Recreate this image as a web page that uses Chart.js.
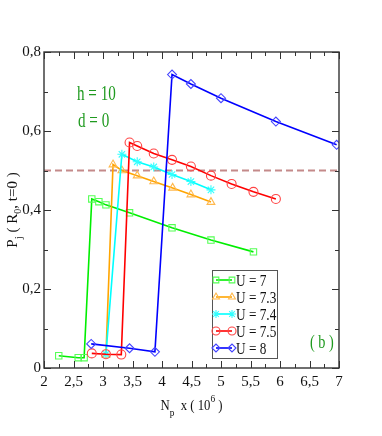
<!DOCTYPE html>
<html>
<head>
<meta charset="utf-8">
<script src="https://cdn.jsdelivr.net/npm/chart.js@4.4.1/dist/chart.umd.min.js"></script>
<style>
  html, body { margin: 0; padding: 0; background: #fff; }
  #wrap { width: 382px; height: 436px; }
</style>
</head>
<body>
<div id="wrap"><canvas id="chart" width="382" height="436"></canvas></div>
<script>
// values (x in units of 10^6)
const u7X  = [2.25, 2.58, 2.68, 2.81, 2.93, 3.05, 3.45, 4.17, 4.83, 5.55];
const u7Y  = [0.031, 0.026, 0.026, 0.428, 0.421, 0.413, 0.393, 0.355, 0.324, 0.294];
const u73X = [3.05, 3.17, 3.32, 3.58, 3.86, 4.18, 4.49, 4.83];
const u73Y = [0.033, 0.515, 0.500, 0.487, 0.472, 0.456, 0.439, 0.420];
const u74X = [3.05, 3.32, 3.58, 3.86, 4.17, 4.49, 4.83];
const u74Y = [0.035, 0.541, 0.522, 0.509, 0.490, 0.472, 0.451];
const u75X = [2.81, 3.05, 3.31, 3.45, 3.58, 3.86, 4.17, 4.49, 4.83, 5.18, 5.55, 5.93];
const u75Y = [0.037, 0.035, 0.034, 0.571, 0.562, 0.543, 0.527, 0.510, 0.487, 0.466, 0.446, 0.428];
const u8X  = [2.80, 3.45, 3.88, 4.17, 4.49, 5.00, 5.93, 6.96];
const u8Y  = [0.061, 0.050, 0.041, 0.743, 0.719, 0.683, 0.624, 0.565];
const threshold = 0.5;

const seriesLabels = ['U = 7', 'U = 7.3', 'U = 7.4', 'U = 7.5', 'U = 8'];
const xTicks = [2, 2.5, 3, 3.5, 4, 4.5, 5, 5.5, 6, 6.5, 7];
const yTicks = [0, 0.2, 0.4, 0.6, 0.8];

function pts(xs, ys) {
    return xs.map((x, i) => ({ x: x, y: ys[i] }));
}

function series(label, xs, ys, line, mark, style, order) {
    return {
        label: label,
        data: pts(xs, ys),
        showLine: true,
        borderColor: line,
        borderWidth: 1.6,
        pointStyle: style,
        pointRadius: 4.5,
        pointBorderColor: mark,
        pointBackgroundColor: 'rgba(0,0,0,0)',
        pointBorderWidth: 1.1,
        order: order
    };
}

const datasets = [
    series(seriesLabels[0], u7X, u7Y, '#00ee00', '#55ff55', 'rect', 5),
    series(seriesLabels[1], u73X, u73Y, '#ffa500', '#ffb84d', 'triangle', 4),
    series(seriesLabels[2], u74X, u74Y, '#00ffff', '#33ffff', 'star', 3),
    series(seriesLabels[3], u75X, u75Y, '#ff0000', '#ff4444', 'circle', 2),
    series(seriesLabels[4], u8X, u8Y, '#0000ff', '#4444ff', 'rectRot', 1),
    {
        label: 'ref',
        data: [{ x: 2, y: threshold }, { x: 7, y: threshold }],
        showLine: true,
        borderColor: '#c48a8a',
        borderWidth: 2,
        borderDash: [7, 4],
        pointRadius: 0,
        order: 6
    }
];

const SERIF = "'Liberation Serif', 'DejaVu Serif', serif";

// text pieces: [text, size, dy]
function drawPieces(ctx, pieces) {
    let total = 0;
    pieces.forEach(p => {
        ctx.font = p[1] + 'px ' + SERIF;
        p.w = ctx.measureText(p[0]).width;
        total += p.w;
    });
    let x = -total / 2;
    pieces.forEach(p => {
        ctx.font = p[1] + 'px ' + SERIF;
        ctx.fillText(p[0], x, p[2]);
        x += p.w;
    });
}

function squeezedText(ctx, txt, x, y, size, color, sx) {
    ctx.save();
    ctx.translate(x, y);
    ctx.scale(sx, 1);
    ctx.font = size + 'px ' + SERIF;
    ctx.fillStyle = color;
    ctx.textAlign = 'left';
    ctx.textBaseline = 'alphabetic';
    ctx.fillText(txt, 0, 0);
    ctx.restore();
}

const framePlugin = {
    id: 'frame',
    afterDraw(chart) {
        const ctx = chart.ctx;
        const a = chart.chartArea;
        const xs = chart.scales.x, ys = chart.scales.y;
        ctx.save();
        ctx.strokeStyle = '#333';
        ctx.lineWidth = 1.4;
        ctx.strokeRect(a.left, a.top, a.right - a.left, a.bottom - a.top);
        ctx.lineWidth = 1;
        ctx.beginPath();
        for (let v = 2; v <= 7.001; v += 0.25) {
            const px = Math.round(xs.getPixelForValue(v)) + 0.5;
            const len = Math.abs(v * 2 - Math.round(v * 2)) < 0.01 ? 7 : 4;
            ctx.moveTo(px, a.bottom); ctx.lineTo(px, a.bottom - len);
            ctx.moveTo(px, a.top); ctx.lineTo(px, a.top + len);
        }
        for (let v = 0; v <= 0.801; v += 0.1) {
            const py = Math.round(ys.getPixelForValue(v)) + 0.5;
            const len = Math.abs(v * 5 - Math.round(v * 5)) < 0.01 ? 7 : 4;
            ctx.moveTo(a.left, py); ctx.lineTo(a.left + len, py);
            ctx.moveTo(a.right, py); ctx.lineTo(a.right - len, py);
        }
        ctx.stroke();

        // axis titles
        ctx.fillStyle = '#111';
        ctx.textAlign = 'left';
        ctx.textBaseline = 'alphabetic';
        ctx.save();
        ctx.translate((a.left + a.right) / 2, 410);
        ctx.scale(0.85, 1);
        drawPieces(ctx, [['N', 15, 0], ['p', 11, 6], ['  x ( 10', 15, 0], ['6', 11, -8], [' )', 15, 0]]);
        ctx.restore();

        ctx.save();
        ctx.translate(17, (a.top + a.bottom) / 2);
        ctx.rotate(-Math.PI / 2);
        drawPieces(ctx, [['P', 15, 0], ['j', 11, 5], [' ( R', 15, 0], ['0', 10, 4], [', t=0 )', 15, 0]]);
        ctx.restore();

        // annotations
        squeezedText(ctx, 'h = 10', 77, 100, 21, '#1f9a1f', 0.72);
        squeezedText(ctx, 'd = 0', 78, 127, 21, '#1f9a1f', 0.72);
        squeezedText(ctx, '( b )', 310, 348, 19, '#1f9a1f', 0.75);

        // legend
        const lx = 212, ly = 270, lw = 65, lh = 88;
        ctx.fillStyle = '#fff';
        ctx.fillRect(lx, ly, lw, lh);
        ctx.strokeStyle = '#555';
        ctx.lineWidth = 1;
        ctx.strokeRect(lx + 0.5, ly + 0.5, lw, lh);
        datasets.slice(0, 5).forEach((ds, i) => {
            const cy = ly + 10 + i * 17;
            ctx.strokeStyle = ds.borderColor;
            ctx.lineWidth = 1.6;
            ctx.beginPath();
            ctx.moveTo(lx + 4, cy); ctx.lineTo(lx + 20, cy);
            ctx.stroke();
            [lx + 4, lx + 20].forEach(px => {
                ctx.strokeStyle = ds.pointBorderColor;
                ctx.fillStyle = 'rgba(0,0,0,0)';
                ctx.lineWidth = 1.1;
                Chart.helpers.drawPoint(ctx, { pointStyle: ds.pointStyle, radius: 4, borderWidth: 1.1, rotation: 0 }, px, cy);
            });
            squeezedText(ctx, ds.label, lx + 24, cy + 6, 17, '#111', 0.78);
        });
        ctx.restore();
    }
};

new Chart(document.getElementById('chart'), {
    type: 'scatter',
    data: { datasets: datasets },
    options: {
        responsive: false,
        animation: false,
        layout: { padding: { top: 52, right: 43, left: 0, bottom: 0 } },
        plugins: { legend: { display: false }, tooltip: { enabled: false } },
        scales: {
            x: {
                type: 'linear',
                min: 2, max: 7,
                afterFit: s => { s.height = 68; },
                afterBuildTicks: s => { s.ticks = xTicks.map(v => ({ value: v })); },
                grid: { display: false, drawTicks: false },
                border: { display: false },
                ticks: {
                    autoSkip: false, maxRotation: 0, padding: 5, color: '#111',
                    font: { family: SERIF, size: 15 },
                    callback: v => String(v).replace('.', ',')
                }
            },
            y: {
                type: 'linear',
                min: 0, max: 0.8,
                afterFit: s => { s.width = 44; },
                afterBuildTicks: s => { s.ticks = yTicks.map(v => ({ value: v })); },
                grid: { display: false, drawTicks: false },
                border: { display: false },
                ticks: {
                    autoSkip: false, padding: 3, color: '#111',
                    font: { family: SERIF, size: 15 },
                    callback: v => v === 0 ? '0' : v.toFixed(1).replace('.', ',')
                }
            }
        }
    },
    plugins: [framePlugin]
});
</script>
</body>
</html>
